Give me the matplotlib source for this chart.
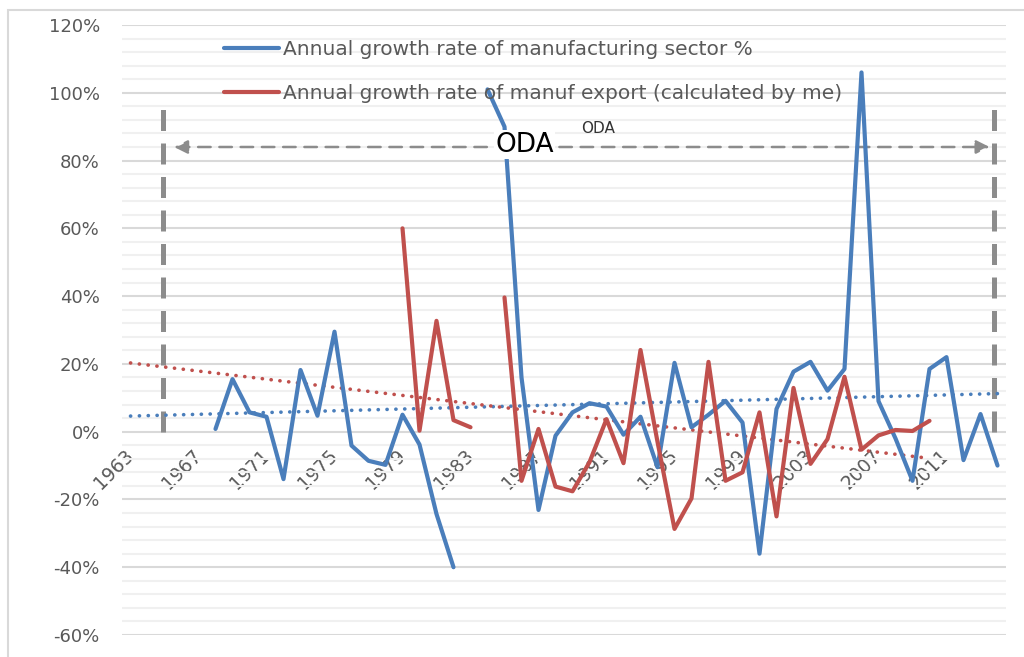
import numpy as np
import matplotlib
matplotlib.use("Agg")
import matplotlib.pyplot as plt
from matplotlib.patches import Rectangle, FancyArrowPatch
from matplotlib.ticker import MultipleLocator, FuncFormatter

nan = np.nan
years = list(range(1963, 2015))

manuf_growth = [nan, nan, nan, nan, nan,
                0.8, 15.5, 5.7, 4.4, -14.0, 18.2, 4.7, 29.5, -4.1, -8.6, -9.8,
                5.0, -3.8, -24.3, -40.0, nan, 101.0, 90.0, 16.0, -23.1, -1.2,
                5.7, 8.4, 7.4, -0.9, 4.4, -10.5, 20.3, 1.3, 5.0, 9.1,
                2.7, -36.0, 6.7, 17.7, 20.6, 12.1, 18.5, 106.0, 9.0, -2.0,
                -14.5, 18.5, 22.0, -8.4, 5.2, -10.0]

export_growth = [nan] * 16 + [
                60.0, 0.3, 32.7, 3.4, 1.3, nan, 39.6, -14.5, 0.8, -16.2,
                -17.6, -9.0, 3.7, -9.3, 24.1, -3.0, -28.7, -19.7, 20.6, -14.5,
                -12.0, 5.7, -25.0, 12.9, -9.5, -2.2, 16.2, -5.3, -1.1, 0.5,
                0.2, 3.2] + [nan] * 4

tick_years = years[::4]
series_labels = ["Annual growth rate of manufacturing sector %",
                 "Annual growth rate of manuf export (calculated by me)"]

BLUE = "#4a7ebb"
RED = "#c0504d"
TXT = "#595959"

fig = plt.figure(figsize=(10.24, 6.57), dpi=100)
W, H = 1024, 657
ax = fig.add_axes([122 / W, 1 - 635 / H, (1006 - 122) / W, (635 - 25) / H])

# chart border
fig.patches.append(Rectangle((8 / W, -0.02), 1.0, 1 - 10 / H + 0.02,
                             transform=fig.transFigure, fill=False,
                             edgecolor="#d9d9d9", linewidth=1.5, zorder=0))

x = np.array(years, dtype=float)
yb = np.array(manuf_growth, dtype=float)
yr = np.array(export_growth, dtype=float)

lb, = ax.plot(x, yb, color=BLUE, lw=3.0, solid_joinstyle="round",
              solid_capstyle="round", zorder=4, label=series_labels[0])
lr, = ax.plot(x, yr, color=RED, lw=3.0, solid_joinstyle="round",
              solid_capstyle="round", zorder=5, label=series_labels[1])

# linear trendlines (computed from the data)
mb = ~np.isnan(yb)
cb = np.polyfit(x[mb], yb[mb], 1)
ax.plot(x, np.polyval(cb, x), color=BLUE, lw=2.6,
        linestyle=(0, (0.05, 2.4)), dash_capstyle="round", zorder=3)
mr = ~np.isnan(yr)
cr = np.polyfit(x[mr], yr[mr], 1)
xr_t = x[x <= x[mr].max()]
ax.plot(xr_t, np.polyval(cr, xr_t), color=RED, lw=2.6,
        linestyle=(0, (0.05, 2.4)), dash_capstyle="round", zorder=3)

ax.set_xlim(1962.5, 2014.5)
ax.set_ylim(-60, 120)

ax.spines["bottom"].set_position(("data", 0))
for s in ax.spines.values():
    s.set_visible(False)

ax.yaxis.set_major_locator(MultipleLocator(20))
ax.yaxis.set_minor_locator(MultipleLocator(4))
ax.yaxis.set_major_formatter(FuncFormatter(lambda v, p: f"{v:.0f}%"))
ax.grid(axis="y", which="major", color="#d9d9d9", lw=1.5, zorder=0)
ax.grid(axis="y", which="minor", color="#f0f0f0", lw=1.5, zorder=0)
ax.set_axisbelow(True)

ax.set_xticks(tick_years)
ax.set_xticklabels([str(t) for t in tick_years])
ax.tick_params(axis="x", length=0, pad=15, labelsize=13.5, labelcolor=TXT)
ax.tick_params(axis="y", which="both", length=0, pad=16, labelsize=13,
               labelcolor=TXT)
for lab in ax.get_xticklabels():
    lab.set_rotation(45)
    lab.set_ha("right")
    lab.set_va("center")
    lab.set_rotation_mode("anchor")

# ODA annotation shapes
for xv in (1964.9, 2013.8):
    ax.plot([xv, xv], [0, 96], color="#8c8c8c", lw=3.6,
            linestyle=(0, (4.2, 2.5)), zorder=2, solid_capstyle="butt")
arr = FancyArrowPatch((1965.4, 84), (2013.7, 84), arrowstyle="<|-|>",
                      mutation_scale=20, color="#8c8c8c", lw=1.8,
                      linestyle=(0, (5, 3.5)), zorder=2)
ax.add_patch(arr)
ax.text(1986.2, 84.7, "ODA", fontsize=19, color="black", ha="center",
        va="center", zorder=6,
        bbox=dict(boxstyle="square,pad=0.05", fc="white", ec="none"))
ax.text(1990.5, 89.6, "ODA", fontsize=11, color="#333333", ha="center",
        va="center", zorder=6)

leg = ax.legend(handles=[lb, lr], loc="upper left",
                bbox_to_anchor=(224 / W, 1 - 40 / H),
                bbox_transform=fig.transFigure, frameon=False,
                fontsize=14.5, handlelength=2.75, handletextpad=0.2,
                labelspacing=1.25, borderpad=0, borderaxespad=0)
for t in leg.get_texts():
    t.set_color(TXT)
leg.set_zorder(7)

fig.savefig("out.png", dpi=100)
